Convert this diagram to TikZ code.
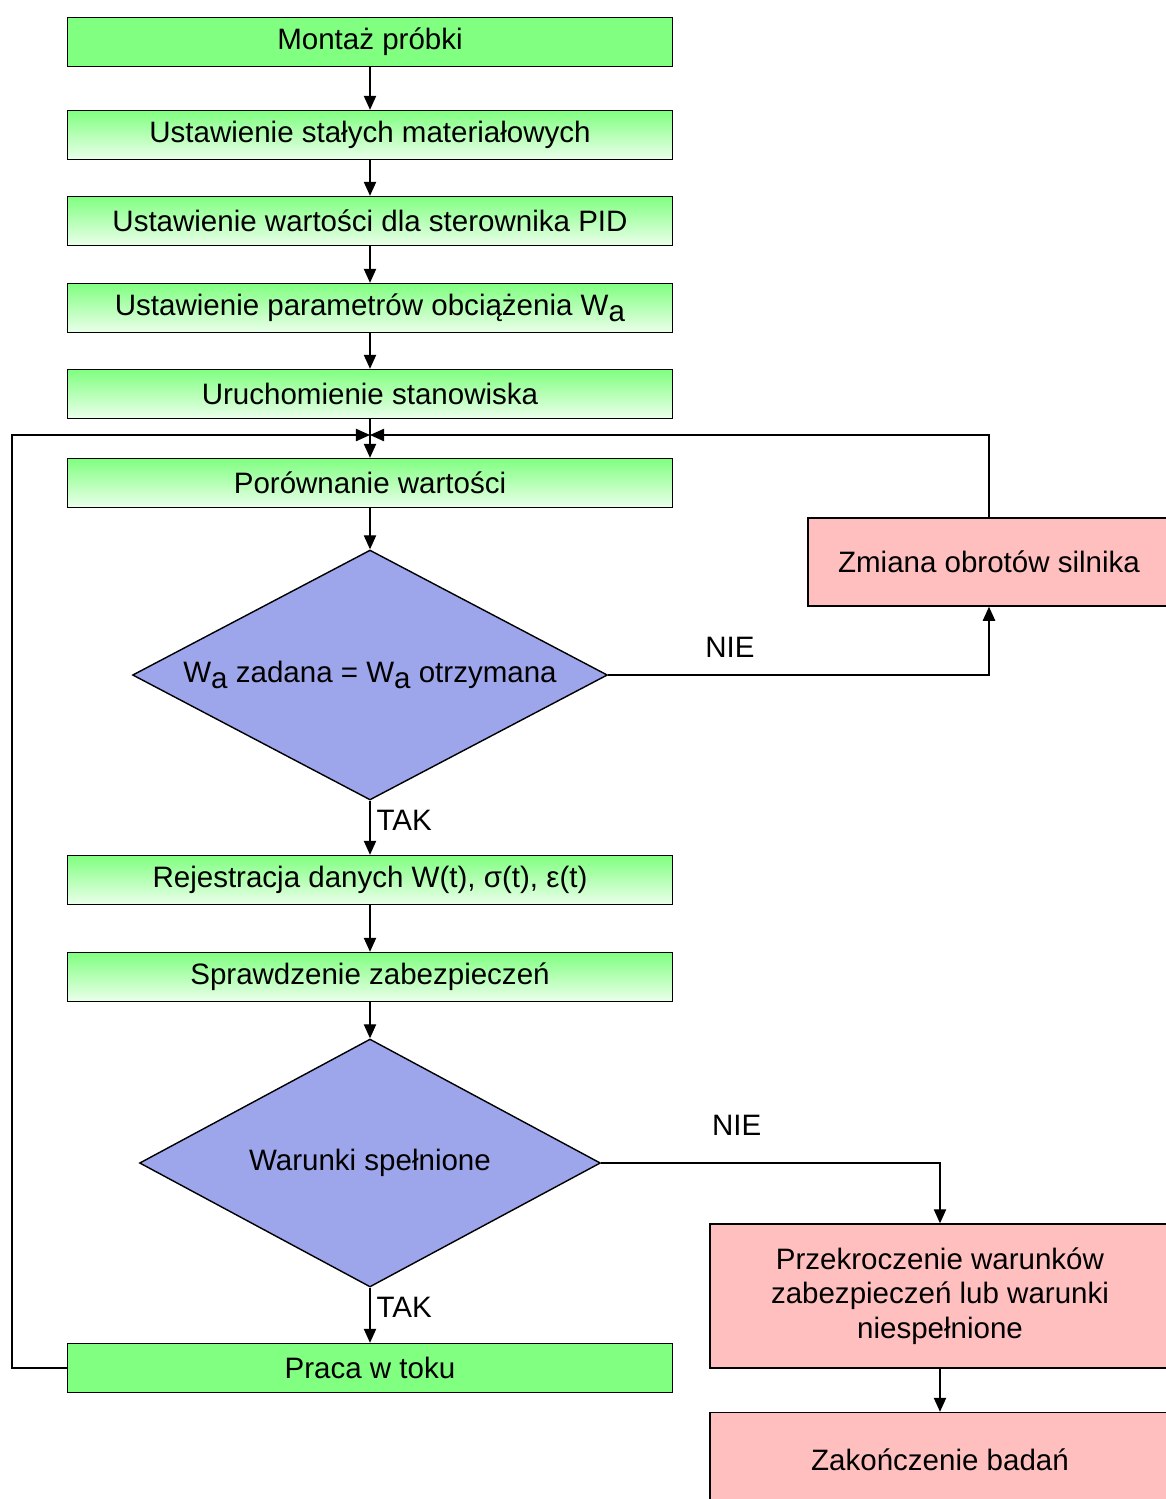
\documentclass[tikz,border=0pt]{standalone}
\usepackage{fontspec}
\setmainfont{Liberation Sans}
\usetikzlibrary{shapes.geometric,arrows.meta}
\definecolor{boxgreen}{RGB}{128,255,128}
\definecolor{boxpale}{RGB}{235,255,235}
\definecolor{decblue}{RGB}{157,165,235}
\definecolor{boxpink}{RGB}{255,191,191}
\newcommand{\Wa}{W\raisebox{-0.4ex}{a}}

\begin{document}
\begin{tikzpicture}[x=0.02cm,y=-0.02cm]
\tikzstyle{every node}=[font=\fontsize{16.8}{19.5}\selectfont]
\tikzstyle{ramka}=[draw, line width=0.8pt, minimum width=12.1cm, minimum height=0.98cm, inner sep=0pt]
\tikzstyle{krok}=[ramka, top color=boxgreen, bottom color=boxpale]
\tikzstyle{krokpelny}=[ramka, fill=boxgreen]
\tikzstyle{decyzja}=[draw, diamond, aspect=1.9, line width=0.8pt, fill=decblue, inner sep=0pt]
\tikzstyle{blad}=[draw, line width=0.8pt, fill=boxpink, align=center, inner sep=0pt]
\tikzstyle{linia}=[line width=0.8pt, -{Triangle[length=8pt,width=7pt]}]
\useasboundingbox (0,0) rectangle (1166,1499);

% glowna sciezka
\node[krokpelny] (montaz) at (370,42) {Montaż próbki};
\node[krok] (stale) at (370,135) {Ustawienie stałych materiałowych};
\node[krok] (pid) at (370,221) {Ustawienie wartości dla sterownika PID};
\node[krok] (obc) at (370,308) {Ustawienie parametrów obciążenia \Wa};
\node[krok] (start) at (370,394) {Uruchomienie stanowiska};
\node[krok] (porown) at (370,483) {Porównanie wartości};
\node[decyzja, minimum width=9.5cm, minimum height=5cm] (war1) at (370,675) {\Wa\ zadana = \Wa\ otrzymana};
\node[krok] (rej) at (370,880) {Rejestracja danych W(t), σ(t), ε(t)};
\node[krok] (spr) at (370,977) {Sprawdzenie zabezpieczeń};
\node[decyzja, minimum width=9.22cm, minimum height=4.96cm] (war2) at (370,1163) {Warunki spełnione};
\node[krokpelny] (praca) at (370,1368) {Praca w toku};

% bloki z prawej
\node[blad, minimum width=7.24cm, minimum height=1.76cm] (zmiana) at (989,562) {Zmiana obrotów silnika};
\node[blad, minimum width=9.2cm, minimum height=2.88cm] (przekr) at (940,1296) {Przekroczenie warunków\\zabezpieczeń lub warunki\\niespełnione};
\node[blad, minimum width=9.2cm, minimum height=1.9cm] (koniec) at (940,1460) {Zakończenie badań};

\coordinate (wezel) at (370,435);
\coordinate (lewy) at (12,435);

\draw[linia] (montaz) -- (stale);
\draw[linia] (stale) -- (pid);
\draw[linia] (pid) -- (obc);
\draw[linia] (obc) -- (start);
\draw[linia] (start) -- (porown);
\draw[linia] (porown) -- (war1);
\draw[linia] (war1.south) -- (rej.north) node[pos=0.36, right] {TAK};
\draw[linia] (war1.east) -| (zmiana.south) node[pos=0.16, above=6pt] {NIE};
\draw[linia] (rej) -- (spr);
\draw[linia] (spr) -- (war2);
\draw[linia] (war2.south) -- (praca.north) node[pos=0.36, right] {TAK};
\draw[linia] (war2.east) -| (przekr.north) node[pos=0.2, above=12pt] {NIE};
\draw[linia] (przekr) -- (koniec);

% petla powrotna
\draw[linia] (praca.west) -| (lewy) -- (wezel);
\draw[linia] (zmiana.north) |- (wezel);
\end{tikzpicture}
\end{document}
